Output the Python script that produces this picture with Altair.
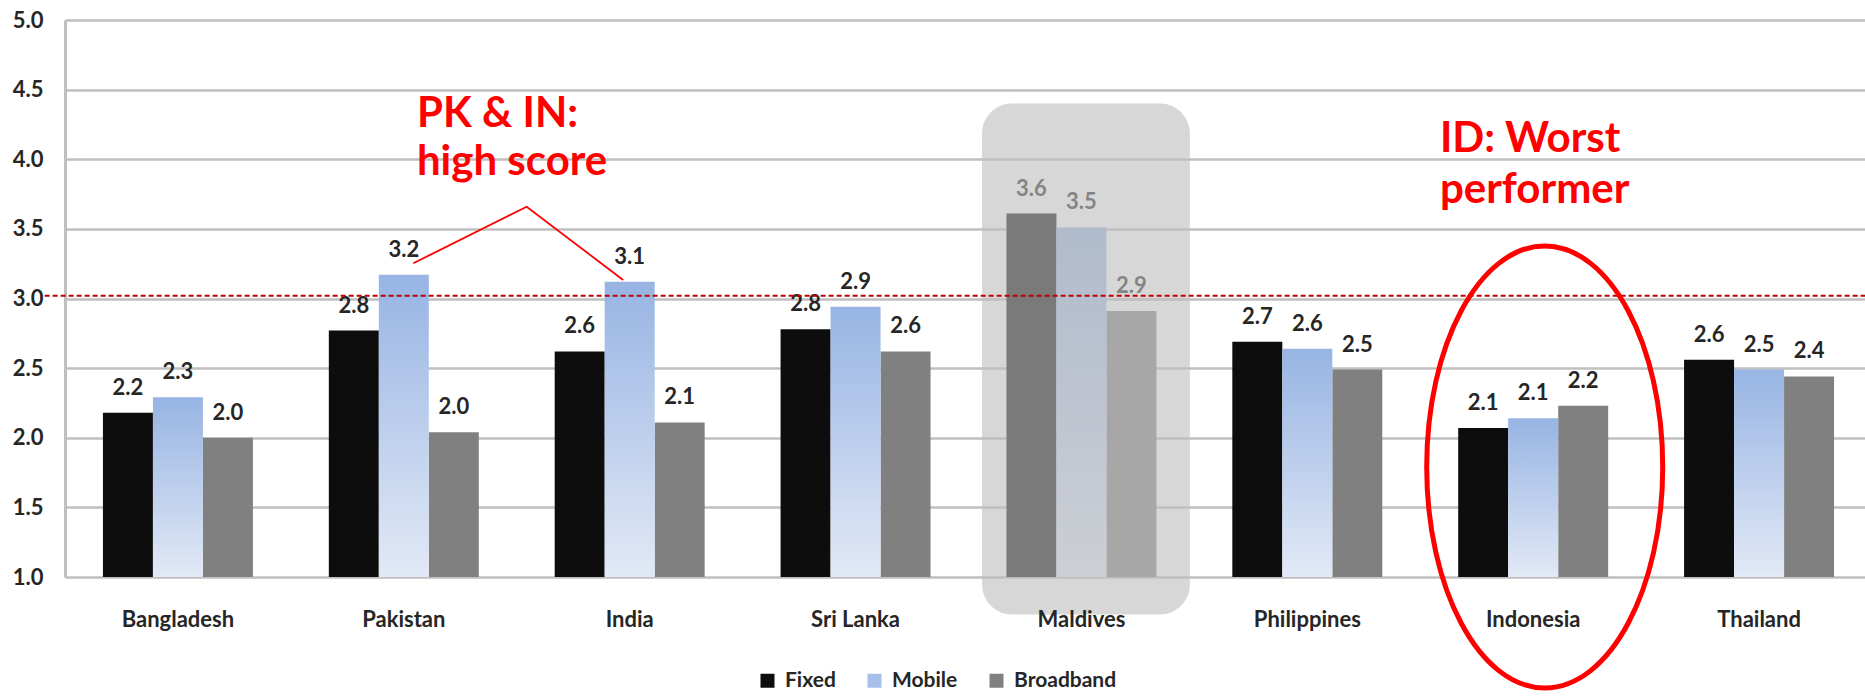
import altair as alt
import pandas as pd

# Scores per country for each connection type
countries = ["Bangladesh", "Pakistan", "India", "Sri Lanka", "Maldives",
             "Philippines", "Indonesia", "Thailand"]
series = ["Fixed", "Mobile", "Broadband"]
fixed = [2.18, 2.77, 2.62, 2.78, 3.61, 2.69, 2.07, 2.56]
mobile = [2.29, 3.17, 3.12, 2.94, 3.51, 2.64, 2.14, 2.49]
broadband = [2.00, 2.04, 2.11, 2.62, 2.91, 2.49, 2.23, 2.44]
y_ticks = [1.0, 1.5, 2.0, 2.5, 3.0, 3.5, 4.0, 4.5, 5.0]
threshold = 3.02

rows = []
for i, c in enumerate(countries):
    for s, vals in zip(series, (fixed, mobile, broadband)):
        rows.append({"country": c, "series": s, "score": vals[i]})
df = pd.DataFrame(rows)

FONT = "Lato"
TEXT = "#262626"
RED = "#ff0000"
X_RANGE = [0, 1807]

y_axis = alt.Axis(title=None, values=y_ticks, format=".1f", labelFont=FONT,
                  labelFontWeight="bold", labelFontSize=22, labelColor=TEXT,
                  labelPadding=22, ticks=False, domainColor="#bfbfbf",
                  domainWidth=3, gridColor="#bfbfbf", gridWidth=2.5)
y_scale = alt.Scale(domain=[1, 5], nice=False, zero=False)

x_band = alt.X("country:N", sort=countries,
               scale=alt.Scale(domain=countries, range=X_RANGE,
                               paddingInner=0, paddingOuter=0),
               axis=alt.Axis(title=None, labelFont=FONT, labelFontWeight="bold",
                             labelFontSize=22, labelColor=TEXT, labelPadding=32,
                             labelAngle=0, ticks=False, domain=False, grid=False,
                             zindex=1))
x_off = alt.XOffset("series:N", sort=series,
                    scale=alt.Scale(domain=series, paddingInner=0,
                                    paddingOuter=0.759))
y_enc = alt.Y("score:Q", scale=y_scale, axis=y_axis)

base = alt.Chart(df)

solid = base.transform_filter(alt.datum.series != "Mobile").mark_bar().encode(
    x=x_band, xOffset=x_off, y=y_enc, y2=alt.datum(1),
    color=alt.Color("series:N",
                    scale=alt.Scale(domain=series,
                                    range=["#0d0d0d", "#a7bfe9", "#808080"]),
                    legend=alt.Legend(title=None, orient="none", legendX=692,
                                      legendY=650, direction="horizontal",
                                      symbolType="square", symbolSize=196,
                                      symbolStrokeWidth=0, symbolOpacity=1,
                                      labelFont=FONT, labelFontWeight="bold",
                                      labelFontSize=21, labelColor=TEXT,
                                      labelOffset=7, columnPadding=28,
                                      padding=0)),
)

mobile_grad = alt.Gradient(
    gradient="linear",
    stops=[alt.GradientStop(color="#97b4e3", offset=0),
           alt.GradientStop(color="#e2e9f6", offset=1)],
    x1=0, x2=0, y1=0, y2=1,
)
mobile_bars = base.transform_filter(alt.datum.series == "Mobile").mark_bar(
    fill=mobile_grad).encode(x=x_band, xOffset=x_off, y=y_enc, y2=alt.datum(1))

value_labels = base.mark_text(font=FONT, fontWeight="bold", fontSize=22,
                              color=TEXT, baseline="alphabetic", dy=-18).encode(
    x=x_band, xOffset=x_off, y=y_enc,
    text=alt.Text("score:Q", format=".1f"))

bars = alt.layer(solid, mobile_bars, value_labels)

# Annotation layer on a continuous position scale (one unit per country band)
x_pos = alt.Scale(domain=[0, 8], range=X_RANGE, nice=False, zero=False)

highlight = alt.Chart(pd.DataFrame({"pos": [4.06], "pos2": [4.98],
                                    "top": [4.40], "bottom": [0.73]})).mark_rect(
    fill="#bebebe", opacity=0.62, cornerRadius=30).encode(
    x=alt.X("pos:Q", scale=x_pos, axis=None), x2="pos2:Q",
    y=alt.Y("top:Q", scale=y_scale, axis=y_axis), y2="bottom:Q")

ref_line = alt.Chart(pd.DataFrame({"pos": [-0.09], "pos2": [8.0],
                                   "y": [threshold]})).mark_rule(
    color="#c00000", strokeDash=[5, 3], strokeWidth=2).encode(
    x=alt.X("pos:Q", scale=x_pos, axis=None), x2="pos2:Q",
    y=alt.Y("y:Q", scale=y_scale, axis=y_axis))

pointer = alt.Chart(pd.DataFrame({"pos": [1.542, 2.044, 2.471],
                                  "y": [3.253, 3.659, 3.133]})).mark_line(
    color=RED, strokeWidth=1.8).encode(
    x=alt.X("pos:Q", scale=x_pos, axis=None),
    y=alt.Y("y:Q", scale=y_scale, axis=y_axis))

note_high = alt.Chart(pd.DataFrame({"pos": [1.558], "y": [4.234],
                                    "label": ["PK & IN:\nhigh score"]})).mark_text(
    align="left", baseline="alphabetic", lineBreak="\n", lineHeight=48,
    font=FONT, fontWeight="bold", fontSize=42, color=RED).encode(
    x=alt.X("pos:Q", scale=x_pos, axis=None),
    y=alt.Y("y:Q", scale=y_scale, axis=y_axis), text="label:N")

note_worst = alt.Chart(pd.DataFrame({"pos": [6.087], "y": [4.052],
                                     "label": ["ID: Worst\nperformer"]})).mark_text(
    align="left", baseline="alphabetic", lineBreak="\n", lineHeight=51,
    font=FONT, fontWeight="bold", fontSize=42, color=RED).encode(
    x=alt.X("pos:Q", scale=x_pos, axis=None),
    y=alt.Y("y:Q", scale=y_scale, axis=y_axis), text="label:N")

ellipse_path = ("M 0.534,0 C 0.534,0.5523 0.295,1 0,1 "
                "C -0.295,1 -0.534,0.5523 -0.534,0 "
                "C -0.534,-0.5523 -0.295,-1 0,-1 "
                "C 0.295,-1 0.534,-0.5523 0.534,0 Z")
ring = alt.Chart(pd.DataFrame({"pos": [6.551], "y": [1.79]})).mark_point(
    shape=ellipse_path, size=195364, filled=False, stroke=RED,
    strokeWidth=5, opacity=1).encode(
    x=alt.X("pos:Q", scale=x_pos, axis=None),
    y=alt.Y("y:Q", scale=y_scale, axis=y_axis))

notes = alt.layer(highlight, ref_line, pointer, note_high, note_worst, ring)

chart = alt.layer(bars, notes).resolve_scale(x="independent").properties(
    width=1800, height=557,
    autosize=alt.AutoSizeParams(type="none"),
    padding={"left": 65, "top": 20, "right": 0, "bottom": 119},
    background="white",
).configure_view(stroke=None)

chart.save("out.html", embed_options={"renderer": "svg", "actions": False})
